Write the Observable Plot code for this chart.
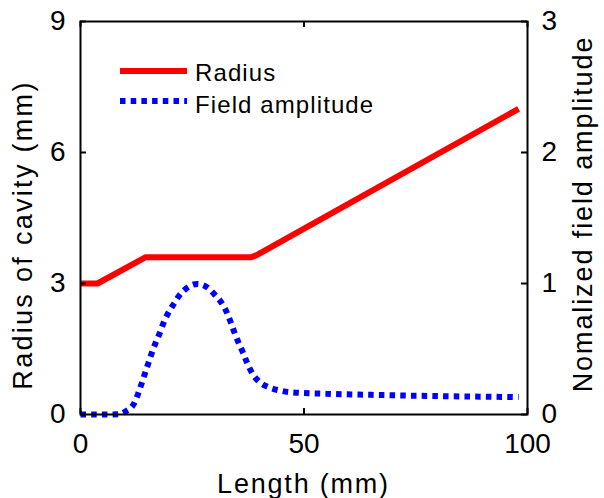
<!DOCTYPE html>
<html><head><meta charset="utf-8">
<script src="https://cdn.jsdelivr.net/npm/d3@7"></script>
<script src="https://cdn.jsdelivr.net/npm/@observablehq/plot@0.6"></script>
<style>body{margin:0;background:#fff} #chart{width:604px;height:498px}</style>
</head><body><div id="chart"></div>
<script>
// ---- data ----
const radiusX = [0, 3.8, 14.5, 38.2, 39.6, 98];
const radiusY = [3, 3, 3.6, 3.6, 3.66, 7];
const fieldX = [0, 5, 8.5, 10.07, 11.93, 12.83, 13.65, 14.39, 15.14, 15.88, 16.78, 17.75, 18.64, 19.61, 20.88, 22.22, 23.86, 26.1, 28.3, 30.2, 31.7, 32.8, 33.7, 34.5, 35.4, 36.4, 37.3, 38.4, 39.9, 42.1, 44.6, 47, 55, 65, 75, 85, 98];
const fieldY = [0, 0, 0.002, 0.023, 0.081, 0.153, 0.234, 0.31, 0.387, 0.463, 0.545, 0.623, 0.705, 0.774, 0.845, 0.914, 0.967, 0.997, 0.972, 0.908, 0.845, 0.774, 0.697, 0.62, 0.545, 0.469, 0.392, 0.316, 0.252, 0.208, 0.183, 0.17, 0.158, 0.15, 0.143, 0.138, 0.133];
const seriesNames = ["Radius", "Field amplitude"];
const seriesColors = ["#ff0000", "#0000ff"];
const xTicks = [0, 50, 100];
const yLeftTicks = [0, 3, 6, 9];
const yRightTicks = [0, 1, 2, 3];
const xDomain = [0, 100];
const yLeftDomain = [0, 9];
const yRightDomain = [0, 3];
const xLabel = "Length (mm)";
const yLeftLabel = "Radius of cavity (mm)";
const yRightLabel = "Nomalized field amplitude";

// ---- layout ----
const W = 604, H = 498;
const mL = 80, mR = 77, mT = 21, mB = 84;
const plotW = W - mL - mR, plotH = H - mT - mB;
const font = "'Liberation Sans', Arial, Helvetica, sans-serif";
const k = yLeftDomain[1] / yRightDomain[1]; // right -> left scale factor
const dash = "5.5,5.2";

const radius = radiusX.map((x, i) => ({x, y: radiusY[i]}));
const field = fieldX.map((x, i) => ({x, y: fieldY[i] * k}));

const tickLen = 6;
const chart = Plot.plot({
  width: W, height: H,
  marginLeft: mL, marginRight: mR, marginTop: mT, marginBottom: mB,
  style: {fontFamily: font, background: "#fff", color: "#000"},
  x: {domain: xDomain},
  y: {domain: yLeftDomain},
  marks: [
    Plot.line(field, {x: "x", y: "y", stroke: seriesColors[1], strokeWidth: 6, strokeDasharray: dash, strokeLinecap: "butt", strokeLinejoin: "miter", curve: "monotone-x"}),
    Plot.line(radius, {x: "x", y: "y", stroke: seriesColors[0], strokeWidth: 6, strokeLinecap: "butt", strokeLinejoin: "round"}),
    Plot.frame({stroke: "#000", strokeWidth: 2}),
    Plot.tickY(yLeftTicks, {y: d => d, insetRight: plotW - tickLen, stroke: "#000", strokeWidth: 2}),
    Plot.tickY(yRightTicks, {y: d => d * k, insetLeft: plotW - tickLen, stroke: "#000", strokeWidth: 2}),
    Plot.tickX(xTicks, {x: d => d, insetTop: plotH - tickLen, stroke: "#000", strokeWidth: 2}),
    Plot.tickX(xTicks, {x: d => d, insetBottom: plotH - tickLen, stroke: "#000", strokeWidth: 2}),
    Plot.axisX({ticks: xTicks, tickSize: 0, tickPadding: 19, fontSize: 28, label: null}),
    Plot.axisY({ticks: yLeftTicks, tickSize: 0, tickPadding: 15, fontSize: 28, label: null}),
    Plot.axisY({anchor: "right", ticks: yRightTicks.map(d => d * k), tickFormat: d => d / k, tickSize: 0, tickPadding: 14, fontSize: 28, label: null})
  ]
});

const svg = d3.select(chart);

// axis titles
const titles = svg.append("g").style("font-family", font).style("font-size", "27px")
  .attr("fill", "#000").attr("text-anchor", "middle");
titles.append("text").attr("x", mL + plotW / 2).attr("y", 493).style("letter-spacing", "1.8px").text(xLabel);
titles.append("text").attr("transform", `translate(23,235) rotate(-90)`).attr("dy", "0.35em").style("letter-spacing", "2.3px").text(yLeftLabel);
titles.append("text").attr("transform", `translate(583,214) rotate(-90)`).attr("dy", "0.35em").style("letter-spacing", "1.9px").text(yRightLabel);

// legend
const leg = svg.append("g").style("font-family", font).style("font-size", "24px")
  .style("letter-spacing", "1.1px").attr("text-anchor", "start");
const legY = [71, 101];
const legBase = [81, 113];
seriesNames.forEach((name, i) => {
  leg.append("line").attr("x1", 120).attr("x2", 187).attr("y1", legY[i]).attr("y2", legY[i])
    .attr("stroke", seriesColors[i]).attr("stroke-width", 6)
    .attr("stroke-dasharray", i === 1 ? dash : null);
  leg.append("text").attr("x", 195).attr("y", legBase[i]).attr("fill", "#000").text(name);
});

document.getElementById("chart").appendChild(chart);
</script>
</body></html>
